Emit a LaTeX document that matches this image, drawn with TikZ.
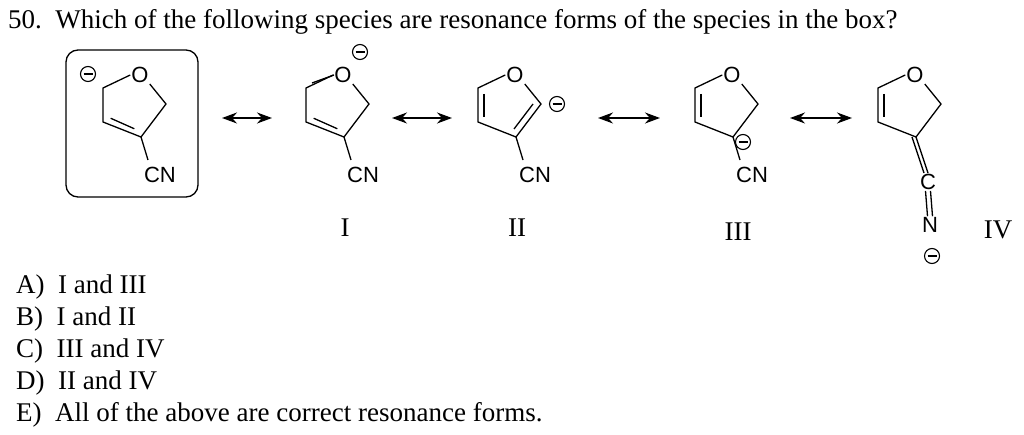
\documentclass[tikz,border=0pt]{standalone}
\usepackage{fontspec}
\setmainfont{Liberation Serif}
\newfontfamily\atomfont{Liberation Sans}
\usetikzlibrary{arrows.meta,calc}
\tikzset{
 bond/.style={line width=1.3pt},
 atom/.style={font=\atomfont\fontsize{22}{22}\selectfont,inner sep=1pt},
 lbl/.style={font=\fontsize{27}{27}\selectfont,inner sep=0pt},
 charge/.style={circle,draw,line width=1.1pt,minimum size=15pt,inner sep=0pt},
 minus/.style={line width=1.4pt},
 rarr/.style={line width=1.5pt,{Stealth[length=15pt,width=11pt]}-{Stealth[length=15pt,width=11pt]}},
}
\newcommand{\ringbase}[1]{%
 \node[atom] (#1O) at (0,0) {O};
 \coordinate (#1a) at (-37,13); \coordinate (#1b) at (-37,47);
 \coordinate (#1c) at (1,62); \coordinate (#1d) at (26,29);
}
\newcommand{\chg}[3]{\node[charge] (#1) at (#2,#3) {};
 \draw[minus] ($(#1.center)+(-4.5,0)$)--($(#1.center)+(4.5,0)$);}
\begin{document}
\begin{tikzpicture}[x=1pt,y=-1pt]
\useasboundingbox (0,0) rectangle (1024,435);
\node[lbl,anchor=west] (title) at (8,22) {50.\ \ Which of the following species are resonance forms of the species in the box?};
% box molecule
\draw[line width=1.3pt,rounded corners=12pt] (66,50) rectangle (198,197);
\begin{scope}[shift={(140,75)}]
\ringbase{p}
\draw[bond] (pO.west)--(pa)--(pb)--(pc)--(pd)--(pO.south east);
\draw[bond] ($(pb)!0.15!(pc)+(2,-6)$)--($(pb)!0.85!(pc)+(-1,-6)$);
\draw[bond] (pc)--(8,85);
\node[atom] (pcn) at (20,100) {CN};
\chg{pm}{-52}{-1}
\end{scope}
\draw[rarr] (222,118)--(272,118);
% I
\begin{scope}[shift={(343,75)}]
\ringbase{q}
\draw[bond] (qO.west)--(qa)--(qb)--(qc)--(qd)--(qO.south east);
\draw[bond] (-31,8)--(-9,0);
\draw[bond] ($(qb)!0.15!(qc)+(2,-6)$)--($(qb)!0.85!(qc)+(-1,-6)$);
\draw[bond] (qc)--(8,85);
\node[atom] (qcn) at (20,100) {CN};
\chg{qm}{17}{-23}
\end{scope}
\draw[rarr] (392,118)--(452,118);
% II
\begin{scope}[shift={(515,75)}]
\ringbase{r}
\draw[bond] (rO.west)--(ra)--(rb)--(rc)--(rd)--(rO.south east);
\draw[bond] (-31,19)--(-31,42);
\draw[bond] (-1,54)--(18,29);
\draw[bond] (rc)--(8,85);
\node[atom] (rcn) at (20,100) {CN};
\chg{rm}{42}{29}
\end{scope}
\draw[rarr] (598,118)--(660,118);
% III
\begin{scope}[shift={(732,75)}]
\ringbase{s}
\draw[bond] (sO.west)--(sa)--(sb)--(sc)--(sd)--(sO.south east);
\draw[bond] (-31,19)--(-31,42);
\draw[bond] (sc)--(8,85);
\node[atom] (scn) at (20,100) {CN};
\chg{sm}{11}{67}
\end{scope}
\draw[rarr] (790,118)--(852,118);
% IV
\begin{scope}[shift={(915,75)}]
\ringbase{t}
\draw[bond] (tO.west)--(ta)--(tb)--(tc)--(td)--(tO.south east);
\draw[bond] (-31,19)--(-31,42);
\node[atom] (tC) at (13,107) {C};
\node[atom] (tN) at (15,150) {N};
\draw[bond] (tc)--(tC.north);
\draw[bond] ([xshift=-4pt]tc)--([xshift=-4pt]tC.north);
\draw[bond] ([xshift=-2.5pt]tC.south)--([xshift=-2.5pt]tN.north);
\draw[bond] ([xshift=2.5pt]tC.south)--([xshift=2.5pt]tN.north);
\chg{tm}{17}{181}
\end{scope}
\node[lbl] (l1) at (345,228) {I};
\node[lbl] (l2) at (517,228) {II};
\node[lbl] (l3) at (738,232) {III};
\node[lbl] (l4) at (998,230) {IV};
\node[lbl,anchor=west] (a) at (16,287) {A)\ \ I and III};
\node[lbl,anchor=west] (b) at (16,319) {B)\ \ I and II};
\node[lbl,anchor=west] (c) at (16,351) {C)\ \ III and IV};
\node[lbl,anchor=west] (d) at (16,383) {D)\ \ II and IV};
\node[lbl,anchor=west] (e) at (16,415) {E)\ \ All of the above are correct resonance forms.};
\end{tikzpicture}
\end{document}
